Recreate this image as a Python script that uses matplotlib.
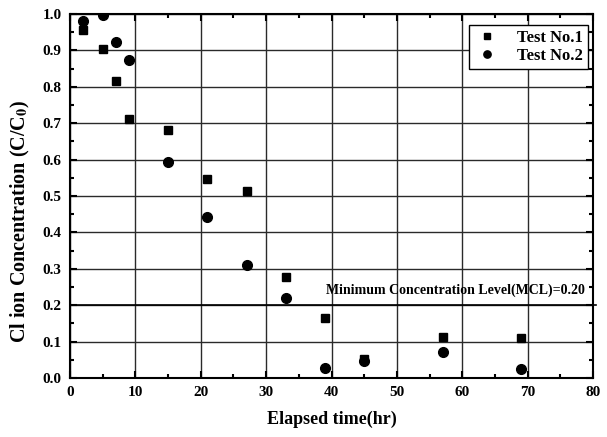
import numpy as np
import matplotlib
matplotlib.use("Agg")
from matplotlib import pyplot as plt
from matplotlib.ticker import MultipleLocator

plt.rcParams["font.family"] = ["Liberation Serif", "DejaVu Serif"]
plt.rcParams["font.weight"] = "bold"
plt.rcParams["mathtext.fontset"] = "stix"

# elapsed time (hr) and normalised Cl ion concentration C/C0
time_hr = [2, 5, 7, 9, 15, 21, 27, 33, 39, 45, 57, 69]
test1 = [0.956, 0.903, 0.815, 0.712, 0.682, 0.548, 0.514, 0.277, 0.164, 0.053, 0.113, 0.109]
test2 = [0.982, 0.997, 0.923, 0.874, 0.594, 0.443, 0.310, 0.221, 0.028, 0.048, 0.071, 0.024]
mcl = 0.20


def main():
    fig = plt.figure(figsize=(6.07, 4.37), dpi=100)
    ax = fig.add_axes([70 / 607, 1 - 378 / 437, 523 / 607, 364 / 437])

    ax.plot(time_hr, test1, "s", color="black", markersize=6, label="Test No.1", zorder=5)
    ax.plot(time_hr, test2, "o", color="black", markersize=7, label="Test No.2", zorder=5)

    ax.set_xlim(0, 80)
    ax.set_ylim(0, 1.0)
    ax.xaxis.set_major_locator(MultipleLocator(10))
    ax.xaxis.set_minor_locator(MultipleLocator(5))
    ax.yaxis.set_major_locator(MultipleLocator(0.1))
    ax.yaxis.set_minor_locator(MultipleLocator(0.05))
    ax.yaxis.set_major_formatter(matplotlib.ticker.FormatStrFormatter("%.1f"))

    ax.grid(True, which="major", color="#2a2a2a", linewidth=1.0)
    # MCL line runs a little past the right spine
    ax.axhline(mcl, xmax=1.006, color="black", linewidth=1.2, zorder=3, clip_on=False)
    ax.text(58.9, 0.24, "Minimum Concentration Level(MCL)=%.2f" % mcl,
            ha="center", va="center", fontsize=10, fontweight="bold", zorder=4)

    ax.tick_params(which="both", direction="in", top=True, right=True, width=1.5)
    ax.tick_params(which="major", length=5, labelsize=11, pad=6)
    ax.tick_params(which="minor", length=3)
    for s in ax.spines.values():
        s.set_linewidth(1.5)
    for lbl in ax.get_xticklabels() + ax.get_yticklabels():
        lbl.set_fontweight("bold")

    ax.set_xlabel("Elapsed time(hr)", fontsize=13, fontweight="bold", labelpad=8)
    ax.set_ylabel(r"Cl ion Concentration (C/C$_\mathbf{0}$)", fontsize=14.5,
                  fontweight="bold")
    ax.yaxis.set_label_coords(-0.073, 0.43)

    leg = ax.legend(loc="upper right", bbox_to_anchor=(0.9904, 0.9698),
                    borderaxespad=0, fontsize=12, frameon=True, fancybox=False,
                    handletextpad=1.0, borderpad=0.3, handlelength=1.6,
                    markerscale=0.75, labelspacing=0.1)
    leg.get_frame().set_edgecolor("black")
    leg.get_frame().set_linewidth(1.0)
    leg.get_frame().set_alpha(1)
    for t in leg.get_texts():
        t.set_fontweight("bold")

    plt.savefig("out.png", dpi=100)


if __name__ == "__main__":
    main()
